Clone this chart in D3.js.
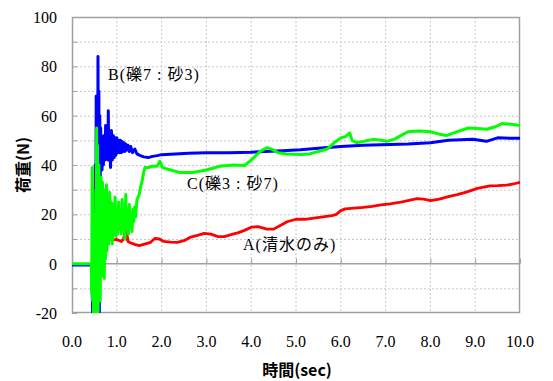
<!DOCTYPE html>
<html><head><meta charset="utf-8">
<script src="https://cdn.jsdelivr.net/npm/d3@7"></script>
<style>
body{margin:0;background:#fff;}
svg{display:block;}
</style></head>
<body>
<svg id="c" width="553" height="381"></svg>
<script>
// ---- data ----
const xTicks = [0,1,2,3,4,5,6,7,8,9,10];
const yTicks = [-20,0,20,40,60,80,100];
const seriesNames = ["A(清水のみ)","B(礫7 : 砂3)","C(礫3 : 砂7)"];

const seriesA = [[0,-0.3],[0.45,-0.3],[0.5,-5],[0.55,20],[0.6,-10],[0.65,25],[0.7,5],[0.75,15],[0.8,11],[0.85,10],[0.9,9.5],[1.0,9.8],[1.1,9],[1.15,10],[1.18,13],[1.2,10],[1.22,13],[1.25,9],[1.3,8.5],[1.4,7.8],[1.5,7.3],[1.6,7.8],[1.74,8.5],[1.85,10.2],[1.95,10],[2.05,9],[2.2,8.7],[2.35,8.6],[2.5,9.3],[2.65,10.8],[2.8,11.5],[2.95,12.3],[3.1,12],[3.25,11],[3.4,11],[3.55,11.8],[3.7,12.5],[3.85,13.5],[4.0,14.8],[4.15,15],[4.35,14],[4.5,14],[4.65,15.5],[4.8,17],[5.0,18],[5.2,18],[5.4,18.5],[5.6,19],[5.8,19.5],[5.9,20],[6.0,21.5],[6.1,22.2],[6.3,22.5],[6.5,22.8],[6.7,23.2],[6.9,23.8],[7.1,24.2],[7.3,24.8],[7.5,25.6],[7.7,26.4],[7.85,26.2],[8.0,25.6],[8.2,26.2],[8.4,27.2],[8.6,28],[8.8,29],[9.05,30.5],[9.33,31.5],[9.5,31.6],[9.7,31.8],[9.85,32.3],[10,33]];

const seriesB = [[0,-0.5],[0.44,-0.5],[0.46,-20],[0.48,10],[0.5,-20],[0.52,40],[0.53,-15],[0.54,68],[0.55,0],[0.56,60],[0.57,-20],[0.58,84],[0.59,20],[0.6,70],[0.61,-20],[0.62,60],[0.63,35],[0.64,55],[0.65,40],[0.66,52],[0.67,38],[0.68,50],[0.7,40],[0.72,52],[0.74,42],[0.75,56],[0.76,44],[0.78,55],[0.8,42],[0.81,62],[0.82,46],[0.84,53],[0.86,39],[0.88,54],[0.9,42],[0.92,52],[0.94,43],[0.96,51],[0.98,44],[1.0,51],[1.02,45],[1.04,50],[1.06,45],[1.08,50],[1.1,45],[1.12,49.5],[1.14,45.5],[1.16,49],[1.18,45.5],[1.2,48.5],[1.22,46],[1.25,48],[1.28,45.5],[1.31,47.5],[1.35,45],[1.4,46.5],[1.45,44.5],[1.5,44],[1.6,43.3],[1.7,43],[1.8,43.5],[1.9,43.8],[2.0,44.2],[2.3,44.5],[2.6,44.8],[3.0,45],[3.5,45],[4.0,45.2],[4.3,45.5],[4.7,45.8],[5.1,46.2],[5.5,46.8],[6.0,47.5],[6.5,48],[7.1,48.3],[7.5,48.5],[8.0,49],[8.4,50],[8.95,50.4],[9.25,49.6],[9.5,51],[9.8,50.8],[10,50.8]];

const seriesC = [[0,0],[0.43,0],[0.44,-12],[0.45,39],[0.46,-15],[0.47,30],[0.48,-20],[0.49,20],[0.5,-25],[0.52,10],[0.53,-25],[0.55,55],[0.56,-10],[0.57,48],[0.58,-25],[0.6,40],[0.61,-10],[0.62,30],[0.63,-15],[0.65,35],[0.66,-5],[0.68,33],[0.69,0],[0.71,30],[0.72,-6],[0.74,28],[0.75,2],[0.77,32],[0.78,5],[0.8,27],[0.82,8],[0.84,29],[0.86,10],[0.88,25],[0.9,8],[0.92,24],[0.94,12],[0.96,27],[0.98,11],[1.0,22],[1.02,12],[1.04,25],[1.06,14],[1.08,22],[1.1,12],[1.12,26],[1.14,15],[1.16,21],[1.18,10],[1.2,28],[1.22,14],[1.24,20],[1.26,12],[1.28,24],[1.3,16],[1.32,19],[1.34,13],[1.36,22],[1.38,17],[1.4,23],[1.42,19],[1.45,26],[1.5,28],[1.53,31],[1.56,33],[1.6,37],[1.63,39],[1.7,39],[1.8,39.5],[1.9,39.5],[1.96,41.5],[2.02,39],[2.1,38.5],[2.4,37],[2.7,37],[3.0,38],[3.3,39.5],[3.6,40],[3.85,39.8],[4.0,42],[4.2,45.5],[4.35,47],[4.45,46.5],[4.6,45],[4.8,44.5],[5.1,44.3],[5.3,44.5],[5.5,45.5],[5.7,46.5],[5.85,49],[6.0,51],[6.1,51.5],[6.2,53],[6.25,50],[6.35,49],[6.5,49.5],[6.72,50.4],[6.9,50],[7.03,49.6],[7.2,50.5],[7.35,52],[7.5,53.5],[7.75,53.8],[8.0,53.5],[8.2,52.5],[8.37,52],[8.6,53.5],[8.85,55],[9.05,54.8],[9.26,54.5],[9.45,55.5],[9.6,56.8],[9.8,56.5],[10,56]];

// ---- layout ----
const L = 72, R = 520, T = 17, B = 313;
const svg = d3.select("#c");
const x = d3.scaleLinear().domain([0,10]).range([L,R]);
const y = d3.scaleLinear().domain([-20,100]).range([B,T]);

const serif = "'Liberation Serif','Times New Roman','Noto Sans CJK JP',serif";
const gothic = "'Noto Sans CJK JP','DejaVu Sans',sans-serif";

// grid
const vGrid = d3.range(1,10);
const hGrid = d3.range(-10,100,10).filter(v=>v!==0);
svg.append("g").selectAll("line").data(vGrid).join("line")
  .attr("x1",d=>x(d)).attr("x2",d=>x(d)).attr("y1",T).attr("y2",B)
  .attr("stroke","#c8c8c8").attr("stroke-dasharray","2,2").attr("stroke-width",1);
svg.append("g").selectAll("line").data(hGrid).join("line")
  .attr("x1",L).attr("x2",R).attr("y1",d=>y(d)+0.5).attr("y2",d=>y(d)+0.5)
  .attr("stroke","#c8c8c8").attr("stroke-dasharray","2,2").attr("stroke-width",1);

// frame
svg.append("rect").attr("x",L+0.5).attr("y",T+0.5).attr("width",R-L-1).attr("height",B-T-1)
  .attr("fill","none").attr("stroke","#a0a0a0").attr("stroke-width",1.5);

// zero axis line
svg.append("line").attr("x1",L).attr("x2",R).attr("y1",y(0)).attr("y2",y(0))
  .attr("stroke","#a0a0a0").attr("stroke-width",1.5);

// axes with D3 (inner ticks)
const xAxis = d3.axisTop(x).tickValues(xTicks).tickSize(5).tickFormat("");
svg.append("g").attr("transform",`translate(0,${y(0)})`).call(xAxis)
  .call(g=>g.select(".domain").remove())
  .call(g=>g.selectAll("line").attr("stroke","#a0a0a0"));
const yAxis = d3.axisRight(y).tickValues(d3.range(-20,101,10)).tickSize(5).tickFormat("");
svg.append("g").attr("transform",`translate(${L},0)`).call(yAxis)
  .call(g=>g.select(".domain").remove())
  .call(g=>g.selectAll("line").attr("stroke","#a0a0a0"));

// tick labels
svg.append("g").selectAll("text").data(xTicks).join("text")
  .attr("x",d=>x(d)).attr("y",347).attr("text-anchor","middle")
  .attr("font-family",serif).attr("font-size",16).attr("fill","#000")
  .text(d=>d.toFixed(1));
svg.append("g").selectAll("text").data(yTicks).join("text")
  .attr("x",57).attr("y",d=>y(d)+6).attr("text-anchor","end")
  .attr("font-family",serif).attr("font-size",16).attr("fill","#000")
  .text(d=>d);

// lines
svg.append("clipPath").attr("id","clp").append("rect")
  .attr("x",L).attr("y",T).attr("width",R-L).attr("height",B-T);
const line = d3.line().x(d=>x(d[0])).y(d=>y(d[1]));
const g = svg.append("g").attr("clip-path","url(#clp)");
[[seriesA,"#ff0000",2.8],[seriesB,"#0000ff",3],[seriesC,"#00ff00",3]].forEach(([s,c,w])=>{
  g.append("path").datum(s).attr("d",line).attr("fill","none")
   .attr("stroke",c).attr("stroke-width",w).attr("stroke-linejoin","round");
});

// series labels
const labPos = [[243,250],[108,80],[187,189]];
seriesNames.forEach((n,i)=>{
  svg.append("text").attr("x",labPos[i][0]).attr("y",labPos[i][1])
    .attr("font-family",serif).attr("font-size",16).attr("letter-spacing",1).attr("fill","#000").text(n);
});

// axis titles
svg.append("text").attr("x",297).attr("y",376).attr("text-anchor","middle")
  .attr("font-family",gothic).attr("font-size",16).attr("font-weight","bold").attr("fill","#000")
  .text("時間(sec)");
svg.append("text").attr("transform","translate(29,165) rotate(-90)").attr("text-anchor","middle")
  .attr("font-family",gothic).attr("font-size",16).attr("font-weight","bold").attr("fill","#000")
  .text("荷重(N)");
</script>
</body></html>
